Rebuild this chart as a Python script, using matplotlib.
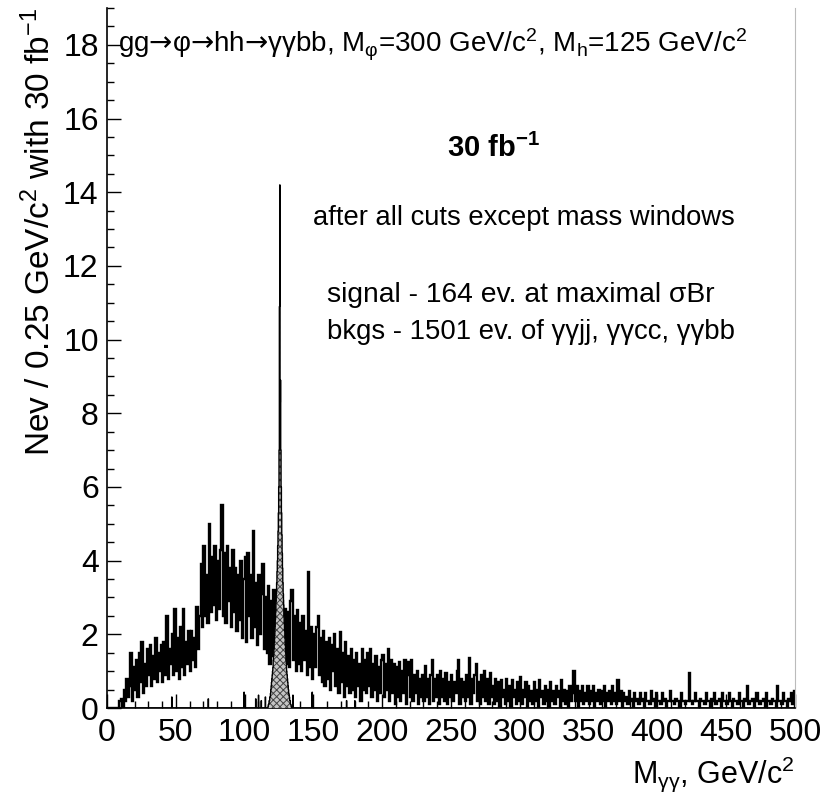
import numpy as np
import matplotlib
matplotlib.use('Agg')
import matplotlib.pyplot as plt
from matplotlib.ticker import MultipleLocator

plt.rcParams['font.family'] = ['Liberation Sans', 'DejaVu Sans']
plt.rcParams['mathtext.fontset'] = 'custom'
plt.rcParams['mathtext.rm'] = 'Liberation Sans'
plt.rcParams['mathtext.it'] = 'Liberation Sans:italic'
plt.rcParams['mathtext.bf'] = 'Liberation Sans:bold'
plt.rcParams['mathtext.sf'] = 'DejaVu Sans'
plt.rcParams['hatch.linewidth'] = 0.7

# ---------------- data ----------------
# background (gg jj, gg cc, gg bb), events per 0.25 GeV bin, sampled in 1 GeV steps from 0 GeV
bkg_start = 0.0
bkg_step = 1.0
bkg = [
    0, 0, 0, 0, 0, 0, 0, 0, 0, 0.2,
    0.25, 0, 0.5, 0.2, 0.8, 0.3, 0.6, 1.5, 0.2, 1.1,
    0.5, 1.3, 0.3, 1.5, 0.7, 1.8, 0.4, 1.2, 0.6, 1.6,
    0.9, 1.7, 0.6, 1.4, 0.8, 1.9, 0.7, 1.5, 1.0, 1.7,
    0.7, 1.8, 0.9, 2.5, 0.8, 1.6, 1.2, 2.0, 0.9, 2.7,
    1.0, 1.9, 0.8, 2.2, 1.1, 2.7, 0.9, 1.8, 1.2, 2.1,
    1.0, 2.1, 1.3, 1.9, 1.1, 2.75, 1.6, 2.5, 3.9, 2.2,
    4.4, 2.5, 3.6, 2.3, 5.0, 2.6, 4.1, 2.8, 4.4, 2.4,
    4.0, 2.7, 4.3, 5.5, 2.5, 4.2, 2.3, 4.4, 2.9, 3.8,
    2.2, 4.3, 2.6, 3.8, 2.1, 3.6, 2.4, 4.0, 1.9, 3.5,
    4.1, 1.8, 4.2, 2.5, 3.6, 1.9, 4.8, 2.2, 3.4, 1.7,
    3.6, 2.0, 3.1, 3.9, 1.6, 3.0, 1.5, 3.3, 1.2, 2.9,
    1.4, 3.2, 1.2, 2.8, 1.6, 3.4, 1.3, 2.9, 1.5, 2.7,
    1.2, 2.6, 1.1, 2.9, 3.2, 1.3, 2.5, 1.0, 2.65, 1.2,
    2.3, 1.0, 2.5, 1.3, 2.1, 0.9, 3.7, 1.1, 2.2, 0.8,
    2.0, 1.1, 2.2, 2.5, 0.9, 1.9, 0.7, 2.1, 0.6, 1.8,
    0.8, 1.9, 0.5, 1.7, 1.0, 2.0, 0.6, 1.6, 0.4, 2.05,
    0.7, 1.5, 0.3, 1.8, 0.6, 1.4, 0.4, 1.6, 0.5, 1.3,
    0.3, 1.5, 0.6, 1.2, 0.2, 1.6, 0.5, 1.3, 0.4, 1.5,
    0.6, 1.6, 0.3, 1.2, 0.5, 1.4, 0.2, 1.1, 0.4, 1.3,
    1.45, 0.3, 1.2, 0.5, 1.6, 0.2, 1.3, 0.4, 1.2, 0.1,
    1.1, 0.3, 1.25, 0.2, 1.0, 0.4, 1.3, 0.1, 0.9, 1.25,
    0.3, 1.3, 0.2, 0.9, 0.4, 1.0, 0.1, 0.8, 0.3, 0.9,
    0.2, 1.15, 0.3, 0.8, 0.1, 0.9, 1.3, 0.2, 0.8, 0.3,
    0.9, 0.1, 1.0, 0.3, 0.8, 0.2, 0.95, 0.1, 0.7, 0.3,
    0.9, 0.2, 0.7, 0.4, 1.0, 1.3, 0.1, 0.8, 0.3, 0.7,
    0.2, 0.9, 0.3, 1.35, 0.1, 0.8, 0.4, 0.9, 1.2, 0.2,
    0.7, 0.1, 0.9, 0.3, 1.0, 0.2, 0.8, 0.1, 0.95, 0.3,
    0.6, 0.1, 0.8, 0.2, 0.7, 0.0, 0.75, 0.3, 0.5, 0.1,
    0.8, 0.2, 0.6, 0.0, 0.75, 0.3, 0.5, 0.1, 0.7, 0.2,
    0.85, 0.1, 0.5, 0.3, 0.7, 0.0, 0.6, 0.2, 0.45, 0.1,
    0.7, 0.2, 0.5, 0.0, 0.75, 0.3, 0.45, 0.1, 0.6, 0.2,
    0.5, 0.0, 0.7, 0.2, 0.45, 0.1, 0.6, 0.3, 0.45, 0.0,
    0.75, 0.2, 0.5, 0.1, 0.45, 0.0, 0.6, 0.2, 0.4, 1.0,
    0.2, 0.6, 0.0, 0.45, 0.2, 0.6, 0.1, 0.4, 0.2, 0.6,
    0.1, 0.45, 0.2, 0.6, 0.0, 0.4, 0.2, 0.5, 0.1, 0.45,
    0.2, 0.6, 0.0, 0.4, 0.2, 0.45, 0.1, 0.6, 0.2, 0.4,
    0.1, 0.75, 0.2, 0.45, 0.0, 0.4, 0.2, 0.3, 0.1, 0.45,
    0.2, 0.25, 0.0, 0.4, 0.2, 0.25, 0.1, 0.4, 0.2, 0.25,
    0.0, 0.4, 0.2, 0.2, 0.1, 0.45, 0.2, 0.25, 0.0, 0.4,
    0.2, 0.2, 0.1, 0.4, 0.2, 0.25, 0.0, 0.2, 0.2, 0.45,
    0.2, 0.2, 0.1, 0.25, 0.2, 0.2, 0.0, 0.4, 0.2, 0.2,
    0.1, 0.2, 0.2, 0.95, 0.2, 0.1, 0.2, 0.4, 0.2, 0.2,
    0.0, 0.25, 0.2, 0.2, 0.1, 0.4, 0.2, 0.2, 0.0, 0.25,
    0.2, 0.4, 0.1, 0.2, 0.2, 0.25, 0.0, 0.4, 0.2, 0.2,
    0.1, 0.2, 0.4, 0.2, 0.0, 0.25, 0.2, 0.2, 0.1, 0.4,
    0.2, 0.2, 0.0, 0.25, 0.2, 0.6, 0.1, 0.2, 0.2, 0.25,
    0.0, 0.2, 0.4, 0.2, 0.1, 0.2, 0.2, 0.25, 0.0, 0.4,
    0.2, 0.2, 0.1, 0.25, 0.2, 0.2, 0.0, 0.6, 0.2, 0.2,
    0.1, 0.4, 0.2, 0.2, 0.0, 0.25, 0.2, 0.4, 0.1, 0.45,
]

# signal (M_phi = 300, h -> gamma gamma peak), 0.25 GeV bins starting at 117 GeV
sig_start = 117.0
sig_step = 0.25
sig_core = [
    0.05, 0.1, 0.1, 0.2, 0.2, 0.3, 0.3, 0.4,
    0.5, 0.6, 0.7, 0.8, 0.9, 1.0, 1.1, 1.3,
    1.4, 1.6, 1.8, 2.0, 2.2, 2.4, 2.6, 2.9,
    3.1, 3.4, 3.7, 4.0, 4.4, 4.8, 5.3, 6.0,
    7.0, 10.9, 14.2, 8.3, 8.9, 7.0, 6.0, 5.3,
    4.7, 4.2, 3.8, 3.4, 3.1, 2.8, 2.5, 2.3,
    2.1, 1.9, 1.7, 1.5, 1.3, 1.2, 1.0, 0.9,
    0.8, 0.7, 0.6, 0.5, 0.4, 0.35, 0.3, 0.2,
    0.2, 0.1, 0.1, 0.05,
]
# isolated signal entries away from the peak
sig_tail_mass = [47.0, 73.5, 99.5, 108.0, 110.0, 112.0, 115.0, 135.0, 149.0, 174.0, 180.0]
sig_tail_val = [0.3, 0.25, 0.43, 0.25, 0.35, 0.2, 0.3, 0.35, 0.43, 0.2, 0.2]

x_min, x_max = 0.0, 500.0
y_min, y_max = 0.0, 19.0

# ---------------- build histograms ----------------
bkg_arr = np.array(bkg, dtype=float)
bkg_edges = bkg_start + bkg_step * np.arange(len(bkg_arr) + 1)

n_sig = int(round((x_max - x_min) / sig_step))
sig_full = np.zeros(n_sig)
i0 = int(round((sig_start - x_min) / sig_step))
sig_full[i0:i0 + len(sig_core)] = sig_core
for m, v in zip(sig_tail_mass, sig_tail_val):
    sig_full[int((m - x_min) / sig_step)] += v
sig_edges = x_min + sig_step * np.arange(n_sig + 1)

# ---------------- figure ----------------
fig = plt.figure(figsize=(8.25, 8.0), dpi=100)
ax = fig.add_axes([107 / 825, 1 - 708 / 800, (795 - 107) / 825, (708 - 8) / 800])

ax.stairs(bkg_arr, bkg_edges, color='black', linewidth=1.7, zorder=2)
ax.stairs(sig_full, sig_edges, fill=True, facecolor='#c4c4c4', edgecolor='#444444',
          hatch='xxxxx', linewidth=0, zorder=3)
ax.stairs(sig_full, sig_edges, color='black', linewidth=1.0, zorder=4)

ax.set_xlim(x_min, x_max)
ax.set_ylim(y_min, y_max)

ax.xaxis.set_major_locator(MultipleLocator(50))
ax.xaxis.set_minor_locator(MultipleLocator(10))
ax.yaxis.set_major_locator(MultipleLocator(2))
ax.yaxis.set_minor_locator(MultipleLocator(0.5))
ax.tick_params(axis='both', which='both', direction='in', top=False, right=False)
ax.tick_params(axis='both', which='major', length=10, width=1.0, labelsize=23)
ax.tick_params(axis='both', which='minor', length=5, width=1.0)
ax.tick_params(axis='x', which='major', pad=7)
ax.tick_params(axis='y', which='major', pad=6)

for s in ['left', 'bottom']:
    ax.spines[s].set_linewidth(1.2)
ax.spines['top'].set_visible(False)
ax.spines['right'].set_color('#bbbbbb')
ax.spines['right'].set_linewidth(0.8)

ax.set_ylabel('Nev / 0.25 GeV/c$^{2}$ with 30 fb$^{-1}$', fontsize=24, loc='top', labelpad=4)
ax.set_xlabel('M$_{\\mathrm{γγ}}$, GeV/c$^{2}$', fontsize=22, loc='right', labelpad=5)

arrow = '$\\mathsf{→}$'
ax.text(8, 18.0, 'gg' + arrow + 'φ' + arrow + 'hh' + arrow + 'γγbb, M$_{\\mathrm{φ}}$=300 GeV/c$^{2}$, '
        'M$_{\\mathrm{h}}$=125 GeV/c$^{2}$',
        fontsize=20, ha='left', va='center')
ax.text(247, 15.2, '30 fb$^{\\mathbf{-1}}$', fontsize=21, fontweight='bold', ha='left', va='center')
ax.text(150, 13.3, 'after all cuts except mass windows', fontsize=19.7, ha='left', va='center')
ax.text(160, 11.2, 'signal - 164 ev. at maximal σBr', fontsize=20.3, ha='left', va='center')
ax.text(160, 10.2, 'bkgs - 1501 ev. of γγjj, γγcc, γγbb', fontsize=19.8, ha='left', va='center')

fig.savefig('out.png', dpi=100)
